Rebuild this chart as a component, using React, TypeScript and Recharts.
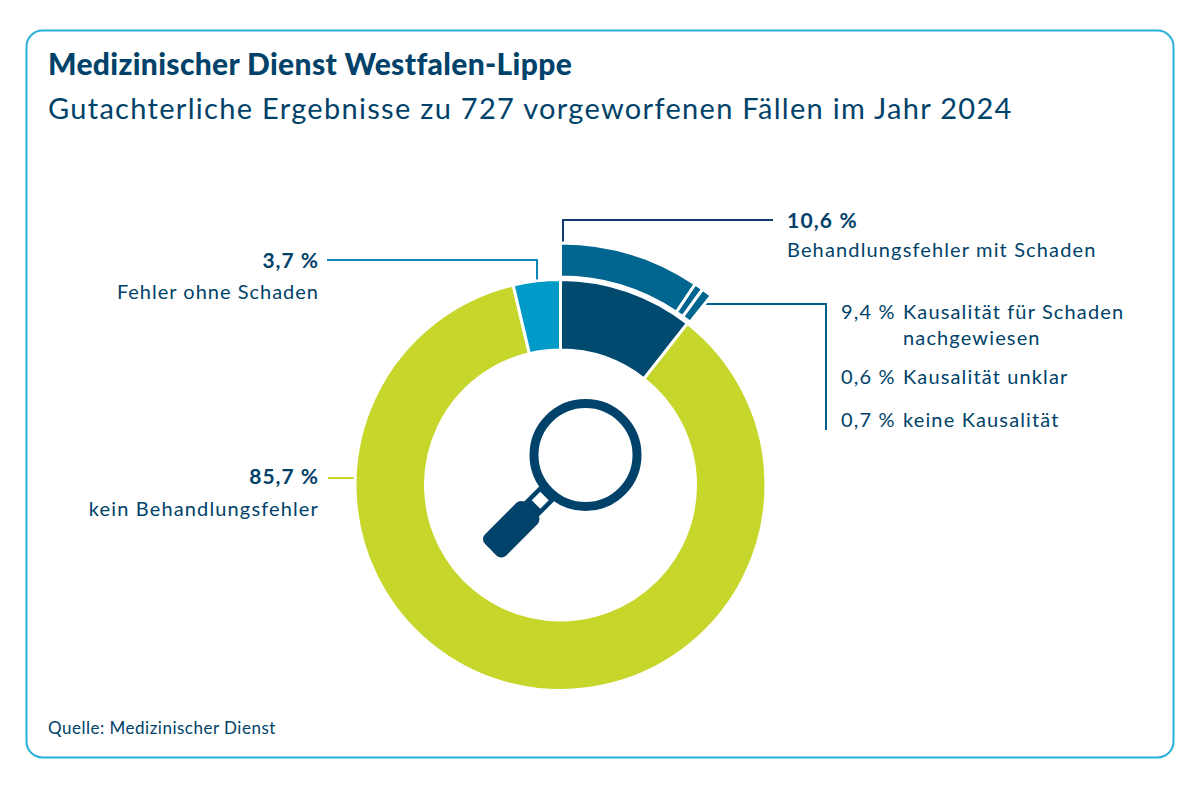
import React from "react";
import { PieChart, Pie, Cell } from "recharts";

const innerNames = ["Behandlungsfehler mit Schaden", "kein Behandlungsfehler", "Fehler ohne Schaden"];
const innerValues = [10.6, 85.7, 3.7];
const innerColors = ["#004a70", "#c6d62b", "#009ac9"];

const outerNames = ["Kausalität für Schaden nachgewiesen", "Kausalität unklar", "keine Kausalität", "Rest"];
const outerValues = [9.4, 0.6, 0.7, 89.3];
const outerColors = ["#00658f", "#00658f", "#00658f", "none"];

const innerData = innerNames.map((name, i) => ({ name, value: innerValues[i] }));
const outerData = outerNames.map((name, i) => ({ name, value: outerValues[i] }));

const FONT = "Lato, sans-serif";
const INK = "#004269";

const T = ({ x, y, s, b, size = 20, anchor = "start", ls = 1.14, w }: any) => (
  <text x={x} y={y} fontFamily={FONT} fontSize={size} fontWeight={w ?? (b ? 700 : 400)} fill={INK} textAnchor={anchor} letterSpacing={ls}>
    {s}
  </text>
);

export default function App() {
  return (
    <div style={{ margin: -8, width: 1200, height: 789, background: "#fff" }}>
      <PieChart width={1200} height={789} margin={{ top: 0, right: 0, bottom: 0, left: 0 }}>
        <rect x={26.5} y={30.5} width={1147} height={727} rx={16} fill="none" stroke="#2bb1d8" strokeWidth={2} />
        <Pie data={innerData} dataKey="value" cx={560.5} cy={485} innerRadius={135} outerRadius={205.5} startAngle={90} endAngle={-270} stroke="#fff" strokeWidth={3} isAnimationActive={false}>
          {innerData.map((d, i) => <Cell key={d.name} fill={innerColors[i]} />)}
        </Pie>
        <Pie data={outerData} dataKey="value" cx={560.5} cy={485} innerRadius={208} outerRadius={242} startAngle={90} endAngle={-270} stroke="none" isAnimationActive={false}>
          {outerData.map((d, i) => <Cell key={d.name} fill={outerColors[i]} stroke={i < 3 ? "#fff" : "none"} strokeWidth={3} />)}
        </Pie>

        <polyline points="563,244 563,220 773,220" fill="none" stroke="#12386f" strokeWidth={2} />
        <polyline points="700,304 826,304 826,430" fill="none" stroke="#00608c" strokeWidth={2} />
        <polyline points="327,260 537,260 537,282" fill="none" stroke="#0a86b8" strokeWidth={2} />
        <line x1={328} y1={478} x2={356} y2={478} stroke="#c6d62b" strokeWidth={2} />

        <g transform="translate(585.5,455) rotate(45)">
          <rect x={-10.5} y={50} width={21} height={28} fill={INK} />
          <rect x={-6} y={58} width={12} height={12} fill="#fff" />
          <rect x={-15} y={76} width={30} height={58} rx={7} fill={INK} />
          <circle r={51.5} fill="#fff" stroke={INK} strokeWidth={9} />
        </g>

        <T x={48} y={75} s="Medizinischer Dienst Westfalen-Lippe" size={30} ls={0.34} w={900} />
        <T x={48} y={119} s="Gutachterliche Ergebnisse zu 727 vorgeworfenen Fällen im Jahr 2024" size={29} ls={1.3} />

        <T x={787} y={228} s="10,6 %" b size={21} ls={1.2} />
        <T x={787} y={257} s="Behandlungsfehler mit Schaden" />
        <T x={319} y={268} s="3,7 %" b size={21} anchor="end" ls={1} />
        <T x={319} y={299} s="Fehler ohne Schaden" anchor="end" ls={1} />
        <T x={319} y={484} s="85,7 %" b size={21} anchor="end" ls={1} />
        <T x={319} y={516} s="kein Behandlungsfehler" anchor="end" ls={1.14} />

        <T x={841} y={319} s="9,4 %" />
        <T x={903} y={319} s="Kausalität für Schaden" />
        <T x={903} y={345} s="nachgewiesen" />
        <T x={841} y={384} s="0,6 %" />
        <T x={903} y={384} s="Kausalität unklar" />
        <T x={841} y={427} s="0,7 %" />
        <T x={903} y={427} s="keine Kausalität" />

        <T x={48} y={734} s="Quelle: Medizinischer Dienst" size={17} ls={0.5} />
      </PieChart>
    </div>
  );
}
